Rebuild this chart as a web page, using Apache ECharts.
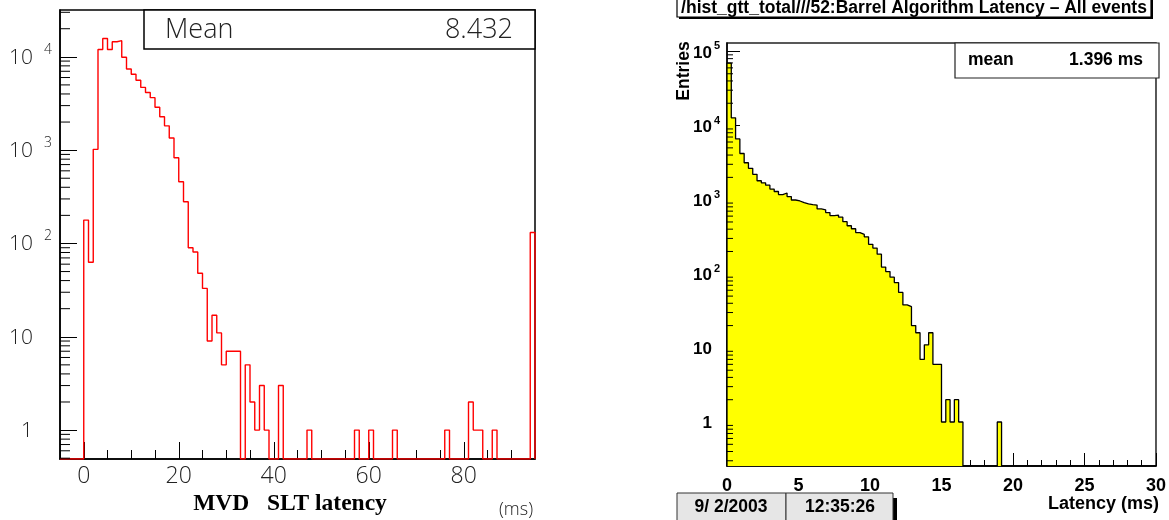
<!DOCTYPE html>
<html><head><meta charset="utf-8">
<script src="https://cdn.jsdelivr.net/npm/echarts@6/dist/echarts.min.js"></script>
<style>html,body{margin:0;padding:0;background:#fff}#c{width:1169px;height:520px}</style>
</head><body><div id="c"></div>
<script>
// ---- Left histogram: MVD SLT latency (1 ms bins, -5 .. 95 ms) ----
const mvdBinStart = -5;
const mvdBinWidth = 1;
const mvdCounts = [
  0, 0, 0, 0, 0,
  178, 63, 1020, 12000, 15700, 12000, 14500, 14900, 9900, 7400,
  6500, 5600, 4700, 4150, 3650, 2880, 2280, 1820, 1350, 830,
  458, 280, 90, 81, 48, 33, 9, 17, 11, 5,
  7, 7, 7, 0, 5, 2, 1, 3, 1, 0,
  0, 3, 0, 0, 0, 0, 0, 1, 0, 0,
  0, 0, 0, 0, 0, 0, 0, 1, 0, 0,
  1, 0, 0, 0, 0, 1, 0, 0, 0, 0,
  0, 0, 0, 0, 0, 0, 1, 0, 0, 0,
  0, 2, 1, 1, 0, 0, 1, 0, 0, 0,
  0, 0, 0, 0, 131
];
const mvdMeanLabel = 'Mean';
const mvdMeanValue = '8.432';
const mvdXLabels = [0, 20, 40, 60, 80];
const mvdXTitle = 'MVD   SLT latency';
const mvdUnit = '(ms)';

// ---- Right histogram: Barrel Algorithm Latency (0.3 ms bins, 0 .. 30 ms) ----
const gttBinStart = 0;
const gttBinWidth = 0.3;
const gttCounts = [
  69700, 12700, 6600, 4200, 3150, 2650, 2200, 1800, 1690, 1570,
  1390, 1290, 1170, 1230, 1100, 990, 960, 910, 880, 860,
  845, 750, 730, 670, 610, 620, 580, 505, 445, 405,
  360, 340, 315, 250, 222, 184, 123, 107, 90, 76,
  56, 38, 36, 20, 16, 7, 11, 16, 6, 6,
  1, 2, 1, 2, 1, 0, 0, 0, 0, 0,
  0, 0, 0, 1, 0, 0, 0, 0, 0, 0,
  0, 0, 0, 0, 0, 0, 0, 0, 0, 0,
  0, 0, 0, 0, 0, 0, 0, 0, 0, 0,
  0, 0, 0, 0, 0, 0, 0, 0, 0, 0
];
const gttTitle = '/hist_gtt_total///52:Barrel Algorithm Latency \u2013 All events';
const gttMeanLabel = 'mean';
const gttMeanValue = '1.396 ms';
const gttYTitle = 'Entries';
const gttXTitle = 'Latency (ms)';
const gttDate = '9/ 2/2003';
const gttTime = '12:35:26';

// axis ranges
const mvdX = [-5, 95], mvdY = [0.49, 31750];
const gttX = [0, 30], gttY = [0.255, 130000];

function stepData(start, width, counts, floor) {
  const pts = [[start, floor]];
  counts.forEach((c, i) => pts.push([start + i * width, c > 0 ? c : floor]));
  const end = start + counts.length * width;
  const last = counts[counts.length - 1];
  pts.push([end, last > 0 ? last : floor]);
  pts.push([end, floor]);
  return pts;
}
function minorLogTicks(lo, hi) {
  const out = [];
  for (let e = -2; e <= 6; e++) for (let m = 2; m <= 9; m++) {
    const v = m * Math.pow(10, e);
    if (v > lo && v < hi) out.push(v);
  }
  return out;
}
function logLabel(v) {
  const l = Math.log10(v), e = Math.round(l);
  if (Math.abs(l - e) > 1e-6) return '';
  if (e === 0) return '{b|1}{s| }';
  if (e === 1) return '{b|10}{s| }';
  return '{b|10}{s|' + e + '}';
}
function tickRenderer(len, color) {
  return function (params, api) {
    const p = api.coord([api.value(0), api.value(1)]);
    return { type: 'line', shape: { x1: p[0], y1: p[1], x2: p[0] + len, y2: p[1] },
      style: { stroke: color, lineWidth: 1 } };
  };
}

const thin = '"Open Sans", Lato, sans-serif';
const bold = '"Liberation Sans", Arial, sans-serif';

const chart = echarts.init(document.getElementById('c'), null, { renderer: 'canvas' });
chart.setOption({
  animation: false,
  backgroundColor: '#fff',
  grid: [
    { left: 60, top: 10, width: 475, height: 449, show: true, borderColor: '#000', borderWidth: 1.5, backgroundColor: 'transparent' },
    { left: 727, top: 43, width: 432, height: 423, show: true, borderColor: '#222', borderWidth: 1.5, backgroundColor: 'transparent' }
  ],
  xAxis: [
    { gridIndex: 0, type: 'value', min: mvdX[0], max: mvdX[1], interval: 5, position: 'bottom',
      axisLine: { onZero: false, lineStyle: { color: '#000', width: 1.5 } },
      axisTick: { inside: true, length: 9, lineStyle: { color: '#000' } },
      axisLabel: { customValues: mvdXLabels, margin: 6, fontFamily: thin, fontWeight: 300, fontSize: 23, color: '#222' },
      splitLine: { show: false } },
    { gridIndex: 0, type: 'value', min: mvdX[0], max: mvdX[1], position: 'bottom',
      axisLine: { show: false, onZero: false },
      axisTick: { inside: true, length: 17, customValues: mvdXLabels, lineStyle: { color: '#000' } },
      axisLabel: { show: false }, splitLine: { show: false } },
    { gridIndex: 1, type: 'value', min: gttX[0], max: gttX[1], interval: 5, position: 'bottom',
      axisLine: { onZero: false, lineStyle: { color: '#000', width: 1.5 } },
      axisTick: { inside: true, length: 13, lineStyle: { color: '#000' } },
      minorTick: { show: true, splitNumber: 5, length: 6, lineStyle: { color: '#000' } },
      axisLabel: { margin: 11, fontFamily: bold, fontWeight: 'bold', fontSize: 18, color: '#000' },
      splitLine: { show: false } }
  ],
  yAxis: [
    { gridIndex: 0, type: 'log', logBase: 10, min: mvdY[0], max: mvdY[1],
      axisLine: { onZero: false, lineStyle: { color: '#000', width: 1.5 } },
      axisTick: { inside: true, length: 17, lineStyle: { color: '#000' } },
      axisLabel: { margin: 8, formatter: logLabel, showMinLabel: false, showMaxLabel: false,
        rich: { b: { fontFamily: thin, fontWeight: 300, fontSize: 21, color: '#222', padding: [2, 0, 0, 0] },
                s: { fontFamily: thin, fontWeight: 300, fontSize: 14, color: '#222', width: 19, align: 'right', padding: [0, 0, 14, 0] } } },
      splitLine: { show: false } },
    { gridIndex: 1, type: 'log', logBase: 10, min: gttY[0], max: gttY[1],
      axisLine: { onZero: false, lineStyle: { color: '#000', width: 1.5 } },
      axisTick: { inside: true, length: 13, lineStyle: { color: '#000' } },
      axisLabel: { margin: 7, formatter: logLabel, showMinLabel: false, showMaxLabel: false,
        rich: { b: { fontFamily: bold, fontWeight: 'bold', fontSize: 17, color: '#000', padding: [3, 0, 0, 0] },
                s: { fontFamily: bold, fontWeight: 'bold', fontSize: 11, color: '#000', width: 8, align: 'right', padding: [0, 0, 10, 0] } } },
      splitLine: { show: false } }
  ],
  series: [
    { type: 'line', xAxisIndex: 0, yAxisIndex: 0, step: 'end', symbol: 'none', clip: true,
      data: stepData(mvdBinStart, mvdBinWidth, mvdCounts, mvdY[0]),
      lineStyle: { color: '#ff0000', width: 1.4 }, z: 3 },
    { type: 'line', xAxisIndex: 2, yAxisIndex: 1, step: 'end', symbol: 'none', clip: true,
      data: stepData(gttBinStart, gttBinWidth, gttCounts, gttY[0]),
      lineStyle: { color: '#000', width: 1.3 },
      areaStyle: { color: '#ffff00', opacity: 1, origin: 'start' }, z: 3 },
    { type: 'custom', xAxisIndex: 0, yAxisIndex: 0, clip: false, silent: true,
      data: minorLogTicks(mvdY[0], mvdY[1]).map(v => [mvdX[0], v]),
      renderItem: tickRenderer(10, '#000'), z: 4 },
    { type: 'custom', xAxisIndex: 2, yAxisIndex: 1, clip: false, silent: true,
      data: minorLogTicks(gttY[0], gttY[1]).map(v => [gttX[0], v]),
      renderItem: tickRenderer(6, '#000'), z: 4 }
  ],
  graphic: [
    // left stats box
    { type: 'rect', z: 100, shape: { x: 144, y: 10, width: 391, height: 39 }, style: { fill: '#fff', stroke: '#000', lineWidth: 1.5 } },
    { type: 'text', z: 101, x: 165, y: 30, style: { text: mvdMeanLabel, fontFamily: thin, fontWeight: 300, fontSize: 27, fill: '#222', verticalAlign: 'middle' } },
    { type: 'text', z: 101, x: 513, y: 30, style: { text: mvdMeanValue, fontFamily: thin, fontWeight: 300, fontSize: 27, fill: '#222', align: 'right', verticalAlign: 'middle' } },
    { type: 'text', z: 101, x: 290, y: 504, style: { text: mvdXTitle, fontFamily: '"Liberation Serif", "Times New Roman", serif', fontWeight: 'bold', fontSize: 23.5, fill: '#000', align: 'center', verticalAlign: 'middle' } },
    { type: 'text', z: 101, x: 516, y: 510, style: { text: mvdUnit, fontFamily: thin, fontWeight: 300, fontSize: 18, fill: '#222', align: 'center', verticalAlign: 'middle' } },
    // right title box
    { type: 'rect', z: 100, shape: { x: 679, y: 0, width: 474, height: 19 }, style: { fill: '#000' } },
    { type: 'rect', z: 101, shape: { x: 677, y: -2, width: 474, height: 19 }, style: { fill: '#fff', stroke: '#000', lineWidth: 1.2 } },
    { type: 'text', z: 102, x: 914, y: 8.5, style: { text: gttTitle, fontFamily: bold, fontWeight: 'bold', fontSize: 17.5, fill: '#000', align: 'center', verticalAlign: 'middle' } },
    // right stats box
    { type: 'rect', z: 100, shape: { x: 955, y: 43, width: 204, height: 35 }, style: { fill: '#fff', stroke: '#222', lineWidth: 1.2 } },
    { type: 'text', z: 101, x: 968, y: 60, style: { text: gttMeanLabel, fontFamily: bold, fontWeight: 'bold', fontSize: 17.5, fill: '#000', verticalAlign: 'middle' } },
    { type: 'text', z: 101, x: 1143, y: 60, style: { text: gttMeanValue, fontFamily: bold, fontWeight: 'bold', fontSize: 17.5, fill: '#000', align: 'right', verticalAlign: 'middle' } },
    // axis titles
    { type: 'text', z: 101, x: 684, y: 71, rotation: Math.PI / 2, style: { text: gttYTitle, fontFamily: bold, fontWeight: 'bold', fontSize: 17.5, fill: '#000', align: 'center', verticalAlign: 'middle' } },
    { type: 'text', z: 101, x: 1159, y: 504, style: { text: gttXTitle, fontFamily: bold, fontWeight: 'bold', fontSize: 18, fill: '#000', align: 'right', verticalAlign: 'middle' } },
    // date box
    { type: 'rect', z: 100, shape: { x: 893, y: 498, width: 4, height: 25 }, style: { fill: '#000' } },
    { type: 'rect', z: 101, shape: { x: 677, y: 493, width: 109, height: 30 }, style: { fill: '#e6e6e6', stroke: '#333', lineWidth: 1 } },
    { type: 'rect', z: 101, shape: { x: 786, y: 493, width: 107, height: 30 }, style: { fill: '#e6e6e6', stroke: '#333', lineWidth: 1 } },
    { type: 'text', z: 102, x: 731, y: 507, style: { text: gttDate, fontFamily: bold, fontWeight: 'bold', fontSize: 17.5, fill: '#000', align: 'center', verticalAlign: 'middle' } },
    { type: 'text', z: 102, x: 840, y: 507, style: { text: gttTime, fontFamily: bold, fontWeight: 'bold', fontSize: 17.5, fill: '#000', align: 'center', verticalAlign: 'middle' } }
  ]
});
</script></body></html>
